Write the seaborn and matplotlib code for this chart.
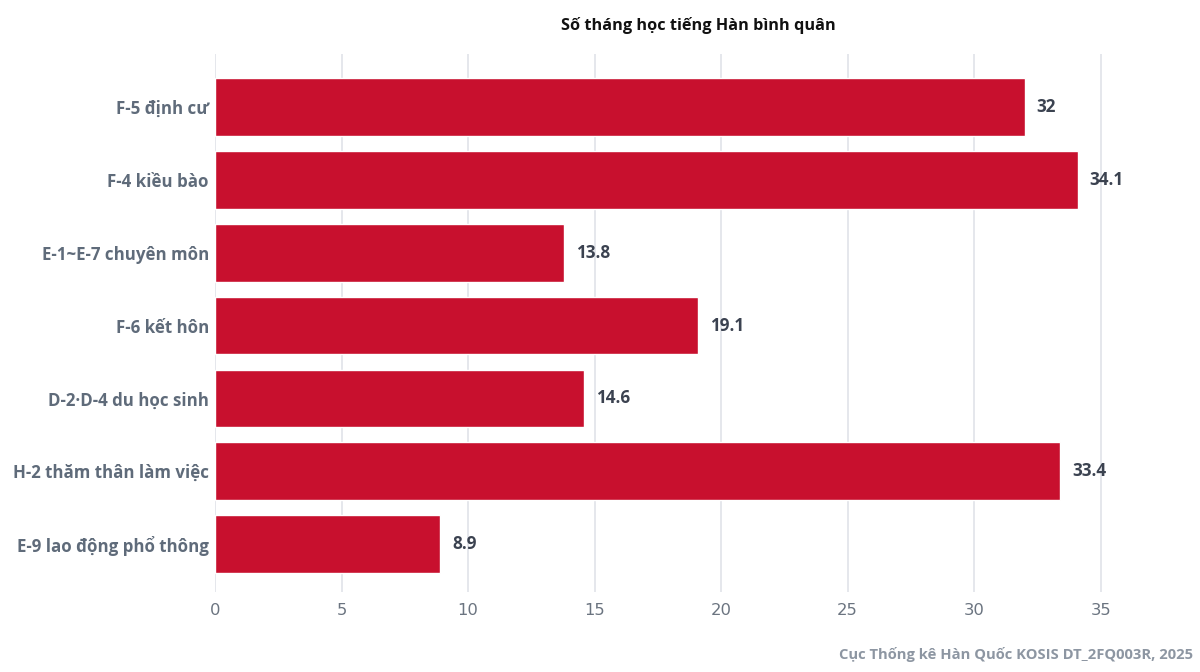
import matplotlib
matplotlib.use("Agg")
import matplotlib.pyplot as plt
import seaborn as sns
import pandas as pd

categories = ["F-5 định cư", "F-4 kiều bào", "E-1~E-7 chuyên môn", "F-6 kết hôn",
              "D-2·D-4 du học sinh", "H-2 thăm thân làm việc", "E-9 lao động phổ thông"]
values = [32, 34.1, 13.8, 19.1, 14.6, 33.4, 8.9]
value_labels = ["32", "34.1", "13.8", "19.1", "14.6", "33.4", "8.9"]
x_ticks = [0, 5, 10, 15, 20, 25, 30, 35]
title = "Số tháng học tiếng Hàn bình quân"
source = "Cục Thống kê Hàn Quốc KOSIS DT_2FQ003R, 2025"

sns.set_theme(style="white")
plt.rcParams["font.family"] = ["Open Sans", "DejaVu Sans"]

df = pd.DataFrame({"cat": categories, "val": values})

fig = plt.figure(figsize=(12, 6.72), dpi=100)
ax = fig.add_axes([215/1200, 1-592/672, (1164-215)/1200, (592-54)/672])

sns.barplot(data=df, y="cat", x="val", orient="h", color="#c8102e",
            saturation=1, width=0.79, ax=ax, zorder=3)

for p, lab in zip(ax.patches, value_labels):
    ax.annotate(lab, (p.get_width(), p.get_y() + p.get_height()/2),
                xytext=(8.5, 0), textcoords="offset points", ha="left", va="center",
                fontsize=12.3, fontweight="bold", color="#3b4250")

ax.set_xlim(0, 37.5)
ax.set_ylim(6.66, -0.73)
ax.set_xticks(x_ticks)
ax.set_xticklabels([str(t) for t in x_ticks], fontsize=11.8, color="#6b7480",
                   family=["DejaVu Sans"])
ax.set_yticklabels(categories, fontsize=12.2, fontweight="bold", color="#5f6b7a")
ax.tick_params(axis="y", length=0, pad=4.5)
ax.tick_params(axis="x", length=0, pad=8)
ax.grid(axis="x", color="#e3e5ea", linewidth=1.3, zorder=0)
ax.set_axisbelow(True)
for s in ax.spines.values():
    s.set_visible(False)
ax.set_xlabel("")
ax.set_ylabel("")

fig.text(698/1200, 1-25/672, title, ha="center", va="center", fontsize=11.7,
         fontweight="bold", color="#111111")
fig.text(1193/1200, 1-655/672, source, ha="right", va="center", fontsize=10.6,
         fontweight="bold", color="#8d96a2")

fig.savefig("out.png", dpi=100)
